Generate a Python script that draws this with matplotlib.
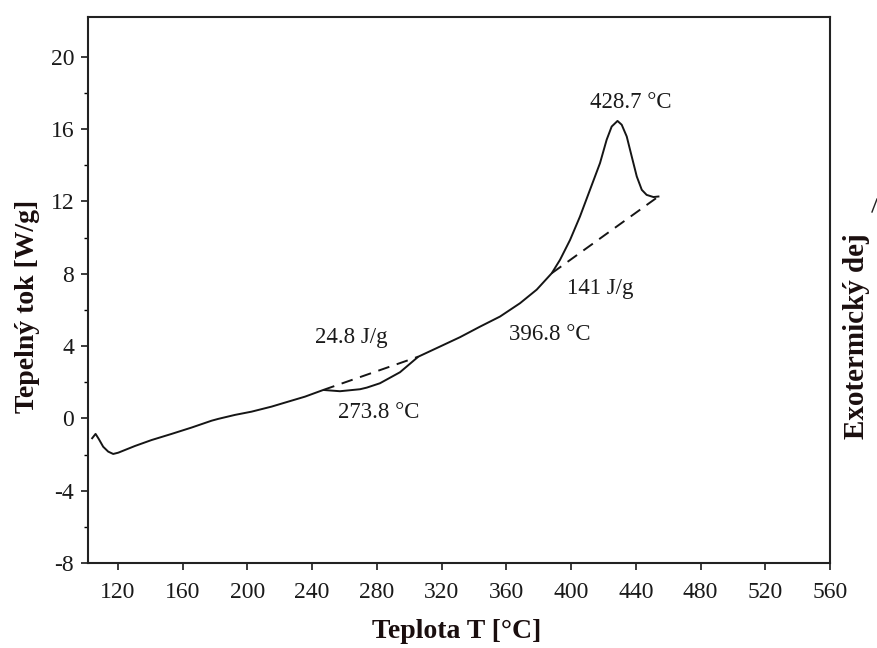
import numpy as np
import matplotlib
matplotlib.use('Agg')
import matplotlib.pyplot as plt
from matplotlib.lines import Line2D

plt.rcParams['font.family'] = ['Liberation Serif', 'DejaVu Serif']
plt.rcParams['axes.unicode_minus'] = False

# DSC curve: temperature [°C] vs heat flow [W/g]
temp = [104.1, 106.2, 108.3, 110.9, 114.0, 117.1, 120.2, 130.5, 140.8, 153.2,
        165.5, 177.9, 182.0, 192.3, 202.6, 215.0, 223.2, 235.6, 246.9, 257.2,
        269.6, 273.8, 281.9, 294.3, 305.6, 319.0, 331.4, 343.7, 356.1, 368.5,
        378.8, 388.1, 393.2, 399.4, 405.5, 411.7, 417.9, 422.0, 425.1, 428.7,
        431.3, 434.4, 437.5, 440.6, 443.7, 446.7, 450.9, 454.0]
heat_flow = [-1.10, -0.86, -1.16, -1.57, -1.84, -1.97, -1.90, -1.53, -1.20, -0.86,
             -0.51, -0.13, -0.03, 0.19, 0.37, 0.65, 0.87, 1.20, 1.57, 1.50,
             1.61, 1.70, 1.94, 2.55, 3.41, 3.97, 4.49, 5.07, 5.63, 6.37,
             7.12, 8.03, 8.77, 9.87, 11.16, 12.64, 14.12, 15.41, 16.14, 16.45,
             16.24, 15.59, 14.48, 13.38, 12.64, 12.36, 12.24, 12.27]

# integration baselines of the two peaks
base1_t = [246.9, 305.6]
base1_q = [1.57, 3.41]
base2_t = [388.1, 454.0]
base2_q = [8.03, 12.27]

# annotations: text, x, y
notes = [
    ('428.7 °C', 437.0, 17.45),
    ('141 J/g', 418.0, 7.2),
    ('396.8 °C', 387.0, 4.62),
    ('24.8 J/g', 264.3, 4.45),
    ('273.8 °C', 281.0, 0.30),
]

xticks = [120, 160, 200, 240, 280, 320, 360, 400, 440, 480, 520, 560]
yticks = [-8, -4, 0, 4, 8, 12, 16, 20]

fig = plt.figure(figsize=(8.77, 6.48), dpi=100)
ax = fig.add_axes([0.1003, 0.1312, 0.8461, 0.8426])

ax.plot(temp, heat_flow, color='#151515', lw=1.4)
ax.plot(base1_t, base1_q, color='#151515', lw=1.4, ls=(0, (6, 4)))
ax.plot(base2_t, base2_q, color='#151515', lw=1.4, ls=(0, (6, 4)))

for txt, x, y in notes:
    ax.text(x, y, txt, fontsize=16.5, ha='center', va='center', color='#1a1a1a')

ax.set_xlim(101.5, 560)
ax.set_ylim(-8, 22.2)
ax.set_xticks(xticks)
ax.set_yticks(yticks)
ax.set_yticks(np.arange(-6, 22, 4), minor=True)
ax.tick_params(axis='both', which='major', direction='out', length=5, width=1.2,
               labelsize=17, colors='#1a1a1a', pad=5)
ax.tick_params(axis='y', which='minor', direction='out', length=3, width=1.0)
ax.tick_params(axis='x', pad=9)
for sp in ax.spines.values():
    sp.set_linewidth(1.5)
    sp.set_color('#222222')

ax.set_xlabel('Teplota T [°C]', fontsize=20, fontweight='bold', color='#1a0e0e',
              va='center')
ax.xaxis.set_label_coords(0.497, -0.126)
ax.set_ylabel('Tepelný tok [W/g]', fontsize=20, fontweight='bold', color='#1a0e0e',
              va='center')
ax.yaxis.set_label_coords(-0.082, 0.469)

fig.text(857 / 877, 1 - 336 / 648, 'Exotermický dej', rotation=90, fontsize=21,
         fontweight='bold', ha='center', va='center', color='#1a0e0e')
# tip of the direction arrow at the right edge
fig.add_artist(Line2D([872 / 877, 877 / 877], [1 - 212 / 648, 1 - 199 / 648],
                      transform=fig.transFigure, color='#222222', lw=1.0))

fig.savefig('out.png', dpi=100)
